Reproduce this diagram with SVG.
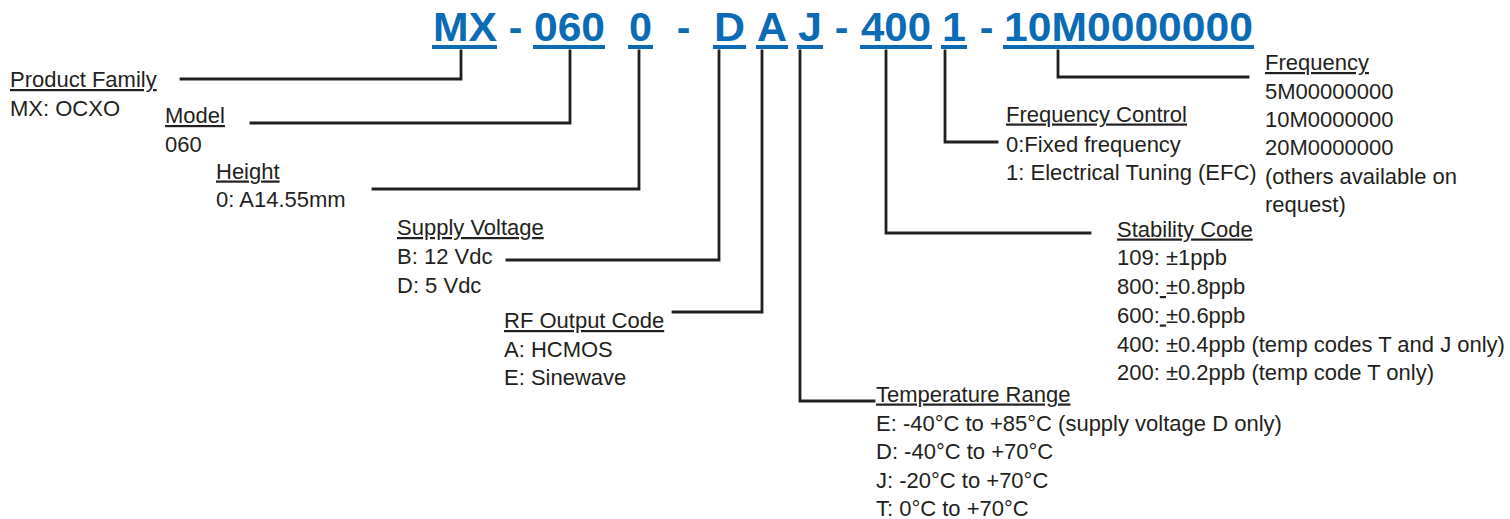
<svg xmlns="http://www.w3.org/2000/svg" width="1510" height="519" viewBox="0 0 1510 519">
<style>
.code{font-family:"Liberation Sans",Arial,sans-serif;font-weight:bold;font-size:41px;fill:#0b6bb5}
.ul{fill:#0b6bb5}
.t{font-family:"Liberation Sans",Arial,sans-serif;font-size:22px;fill:#231f20}
.h{text-decoration:underline}
.c{fill:none;stroke:#231f20;stroke-width:2.8;stroke-linecap:square}
</style>
<rect width="1510" height="519" fill="#ffffff"/>
<g id="partcode">
<text class="code" x="433" y="41" textLength="64" lengthAdjust="spacingAndGlyphs">MX</text>
<text class="code" x="515.5" y="41" text-anchor="middle">-</text>
<text class="code" x="534" y="41" textLength="71" lengthAdjust="spacingAndGlyphs">060</text>
<text class="code" x="629" y="41" textLength="23" lengthAdjust="spacingAndGlyphs">0</text>
<text class="code" x="683.5" y="41" text-anchor="middle">-</text>
<text class="code" x="714" y="41" textLength="31" lengthAdjust="spacingAndGlyphs">D</text>
<text class="code" x="757" y="41" textLength="30" lengthAdjust="spacingAndGlyphs">A</text>
<text class="code" x="798" y="41" textLength="24" lengthAdjust="spacingAndGlyphs">J</text>
<text class="code" x="841.5" y="41" text-anchor="middle">-</text>
<text class="code" x="861" y="41" textLength="70" lengthAdjust="spacingAndGlyphs">400</text>
<text class="code" x="942" y="41" textLength="24" lengthAdjust="spacingAndGlyphs">1</text>
<text class="code" x="986.5" y="41" text-anchor="middle">-</text>
<text class="code" x="1004" y="41" textLength="249" lengthAdjust="spacingAndGlyphs">10M0000000</text>
<rect class="ul" x="432" y="45" width="65" height="4"/>
<rect class="ul" x="533" y="45" width="72" height="4"/>
<rect class="ul" x="628" y="45" width="25" height="4"/>
<rect class="ul" x="713" y="45" width="33" height="4"/>
<rect class="ul" x="756" y="45" width="32" height="4"/>
<rect class="ul" x="797" y="45" width="26" height="4"/>
<rect class="ul" x="860" y="45" width="72" height="4"/>
<rect class="ul" x="941" y="45" width="26" height="4"/>
<rect class="ul" x="1003" y="45" width="251" height="4"/>
</g>
<g id="connectors">
<polyline class="c" points="461,51 461,79 181,79"/>
<polyline class="c" points="570,51 570,123 251,123"/>
<polyline class="c" points="639,51 639,189 373,189"/>
<polyline class="c" points="719,51 719,260 507,260"/>
<polyline class="c" points="762,51 762,312 673,312"/>
<polyline class="c" points="800,51 800,401 874,401"/>
<polyline class="c" points="886,51 886,233 1090,233"/>
<polyline class="c" points="945,51 945,142 997,142"/>
<polyline class="c" points="1058,51 1058,77 1248,77"/>
</g>
<g id="product-family">
<text class="t" x="10" y="87"><tspan class="h">Product Family</tspan></text>
<text class="t" x="10" y="115.5">MX: OCXO</text>
</g>
<g id="model">
<text class="t" x="165" y="123"><tspan class="h">Model</tspan></text>
<text class="t" x="165" y="151.5">060</text>
</g>
<g id="height">
<text class="t" x="216" y="178.5"><tspan class="h">Height</tspan></text>
<text class="t" x="216" y="207">0: A14.55mm</text>
</g>
<g id="supply-voltage">
<text class="t" x="397" y="235"><tspan class="h">Supply Voltage</tspan></text>
<text class="t" x="397" y="264">B: 12 Vdc</text>
<text class="t" x="397" y="292.5">D: 5 Vdc</text>
</g>
<g id="rf-output">
<text class="t" x="504" y="328"><tspan class="h">RF Output Code</tspan></text>
<text class="t" x="504" y="357">A: HCMOS</text>
<text class="t" x="504" y="385">E: Sinewave</text>
</g>
<g id="temperature-range">
<text class="t" x="876" y="401.5"><tspan class="h">Temperature Range</tspan></text>
<text class="t" x="876" y="430.5">E: -40°C to +85°C (supply voltage D only)</text>
<text class="t" x="876" y="459">D: -40°C to +70°C</text>
<text class="t" x="876" y="487.5">J: -20°C to +70°C</text>
<text class="t" x="876" y="516">T: 0°C to +70°C</text>
</g>
<g id="stability-code">
<text class="t" x="1117" y="236.5"><tspan class="h">Stability Code</tspan></text>
<text class="t" x="1117" y="265">109: ±1ppb</text>
<text class="t" x="1117" y="294">800:<tspan class="h"> </tspan>±0.8ppb</text>
<text class="t" x="1117" y="322.5">600:<tspan class="h"> </tspan>±0.6ppb</text>
<text class="t" x="1117" y="351.5">400: ±0.4ppb (temp codes T and J only)</text>
<text class="t" x="1117" y="380">200: ±0.2ppb (temp code T only)</text>
</g>
<g id="frequency-control">
<text class="t" x="1006" y="121.5"><tspan class="h">Frequency Control</tspan></text>
<text class="t" x="1006" y="151.5">0:Fixed frequency</text>
<text class="t" x="1006" y="180">1: Electrical Tuning (EFC)</text>
</g>
<g id="frequency">
<text class="t" x="1265" y="70"><tspan class="h">Frequency</tspan></text>
<text class="t" x="1265" y="99">5M00000000</text>
<text class="t" x="1265" y="127">10M0000000</text>
<text class="t" x="1265" y="155">20M0000000</text>
<text class="t" x="1265" y="184">(others available on</text>
<text class="t" x="1265" y="212">request)</text>
</g>
</svg>
